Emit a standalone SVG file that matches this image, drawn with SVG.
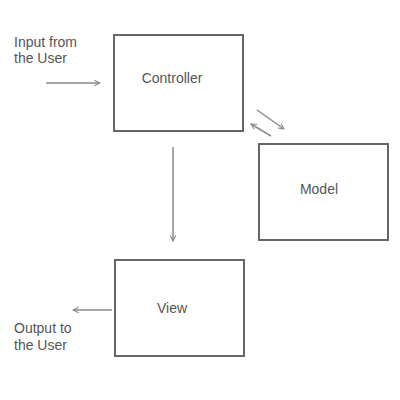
<svg xmlns="http://www.w3.org/2000/svg" width="400" height="400" viewBox="0 0 400 400">
<defs>
<marker id="ah" viewBox="0 0 10 10" refX="9" refY="5" markerWidth="7" markerHeight="8" markerUnits="userSpaceOnUse" orient="auto">
<path d="M1,1 L9,5 L1,9" fill="none" stroke="#888" stroke-width="1.5"/>
</marker>
<style>
.box{fill:#fff;stroke:#666;stroke-width:2}
.lbl{font-family:"Liberation Sans",Arial,sans-serif;font-size:14px;fill:#555}
.c{text-anchor:middle}
.conn{stroke:#8a8a8a;stroke-width:1.5;fill:none;marker-end:url(#ah)}
</style>
</defs>
<rect width="400" height="400" fill="#fff"/>
<g id="connectors">
<line class="conn" x1="46" y1="83" x2="100" y2="83"/>
<line class="conn" x1="112" y1="310" x2="73" y2="310"/>
<line class="conn" x1="173" y1="147" x2="173" y2="241"/>
<line class="conn" x1="257" y1="110" x2="284" y2="129"/>
<line class="conn" x1="271" y1="136" x2="251" y2="124"/>
</g>
<g id="input-label">
<text class="lbl" x="14" y="47">Input from</text>
<text class="lbl" x="14" y="63">the User</text>
</g>
<g id="controller">
<rect class="box" x="114" y="35" width="129" height="96"/>
<text class="lbl c" x="172" y="83">Controller</text>
</g>
<g id="model">
<rect class="box" x="259" y="144" width="129" height="96"/>
<text class="lbl c" x="319" y="194">Model</text>
</g>
<g id="view">
<rect class="box" x="115" y="260" width="129" height="96"/>
<text class="lbl c" x="172" y="313">View</text>
</g>
<g id="output-label">
<text class="lbl" x="14" y="333">Output to</text>
<text class="lbl" x="14" y="350">the User</text>
</g>
</svg>
